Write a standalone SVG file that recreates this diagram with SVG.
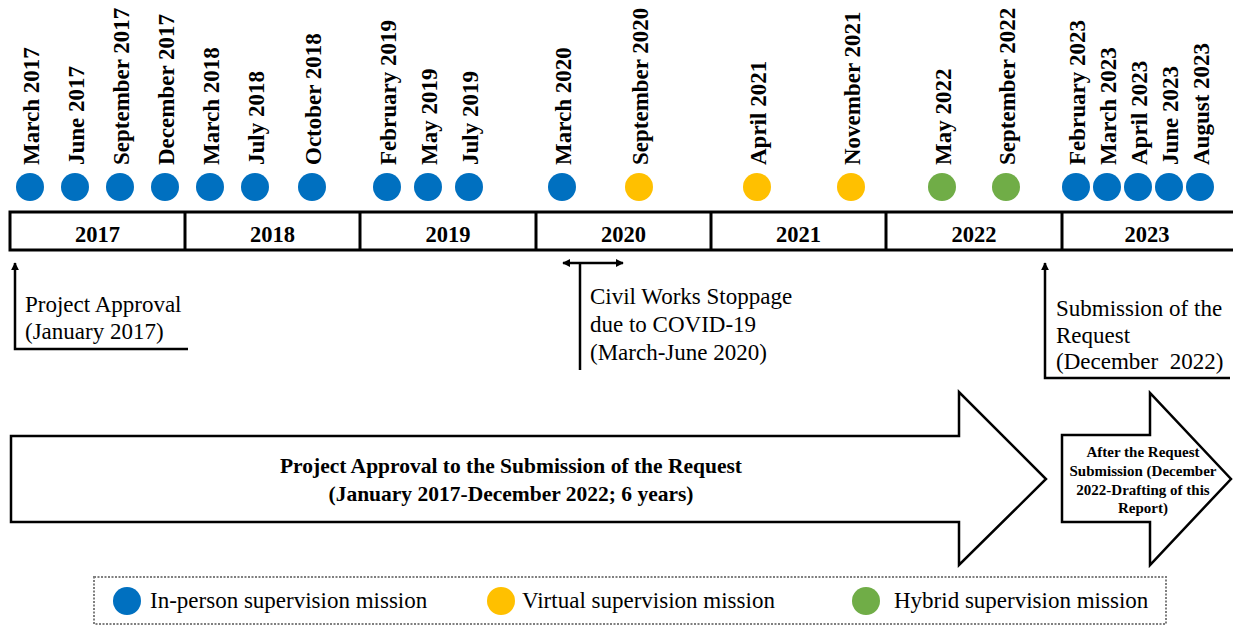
<svg xmlns="http://www.w3.org/2000/svg" width="1233" height="626" viewBox="0 0 1233 626">
  <style>
    .lbl { font-family: "Liberation Serif", "Times New Roman", serif; font-weight: bold; font-size: 23px; fill: #000; }
    .yr { font-family: "Liberation Serif", "Times New Roman", serif; font-weight: bold; font-size: 22.5px; fill: #000; text-anchor: middle; }
    .note { font-family: "Liberation Serif", "Times New Roman", serif; font-size: 23px; fill: #000; white-space: pre; }
    .big { font-family: "Liberation Serif", "Times New Roman", serif; font-weight: bold; font-size: 21.5px; fill: #000; text-anchor: middle; }
    .small { font-family: "Liberation Serif", "Times New Roman", serif; font-weight: bold; font-size: 15px; fill: #000; text-anchor: middle; }
    .inp { fill: #0070C0; }
    .vir { fill: #FFC000; }
    .hyb { fill: #70AD47; }
    .bar { fill: #fff; stroke: #000; stroke-width: 3; }
    .div { stroke: #000; stroke-width: 3; }
    .conn { fill: none; stroke: #000; stroke-width: 2.5; }
    .shape { fill: #fff; stroke: #000; stroke-width: 2.5; stroke-linejoin: miter; }
  </style>
  <defs>
    <marker id="head" viewBox="0 0 10 10" refX="9" refY="5" markerWidth="8" markerHeight="8" markerUnits="userSpaceOnUse" orient="auto-start-reverse">
      <path d="M0,0 L10,5 L0,10 z" fill="#000"/>
    </marker>
  </defs>

  <!-- mission dots with rotated date labels -->
  <g id="missions">
    <g id="m-2017-03"><circle class="inp" cx="30" cy="187" r="14"/><text class="lbl" transform="translate(38.5,165) rotate(-90)">March 2017</text></g>
    <g id="m-2017-06"><circle class="inp" cx="75" cy="187" r="14"/><text class="lbl" transform="translate(83.5,165) rotate(-90)">June 2017</text></g>
    <g id="m-2017-09"><circle class="inp" cx="120" cy="187" r="14"/><text class="lbl" transform="translate(128.5,165) rotate(-90)">September 2017</text></g>
    <g id="m-2017-12"><circle class="inp" cx="165" cy="187" r="14"/><text class="lbl" transform="translate(173.5,165) rotate(-90)">December 2017</text></g>
    <g id="m-2018-03"><circle class="inp" cx="210" cy="187" r="14"/><text class="lbl" transform="translate(218.5,165) rotate(-90)">March 2018</text></g>
    <g id="m-2018-07"><circle class="inp" cx="255" cy="187" r="14"/><text class="lbl" transform="translate(263.5,165) rotate(-90)">July 2018</text></g>
    <g id="m-2018-10"><circle class="inp" cx="312" cy="187" r="14"/><text class="lbl" transform="translate(320.5,165) rotate(-90)">October 2018</text></g>
    <g id="m-2019-02"><circle class="inp" cx="387" cy="187" r="14"/><text class="lbl" transform="translate(395.5,165) rotate(-90)">February 2019</text></g>
    <g id="m-2019-05"><circle class="inp" cx="428" cy="187" r="14"/><text class="lbl" transform="translate(436.5,165) rotate(-90)">May 2019</text></g>
    <g id="m-2019-07"><circle class="inp" cx="469" cy="187" r="14"/><text class="lbl" transform="translate(477.5,165) rotate(-90)">July 2019</text></g>
    <g id="m-2020-03"><circle class="inp" cx="562" cy="187" r="14"/><text class="lbl" transform="translate(570.5,165) rotate(-90)">March 2020</text></g>
    <g id="m-2020-09"><circle class="vir" cx="639" cy="187" r="14"/><text class="lbl" transform="translate(647.5,165) rotate(-90)">September 2020</text></g>
    <g id="m-2021-04"><circle class="vir" cx="757" cy="187" r="14"/><text class="lbl" transform="translate(765.5,165) rotate(-90)">April 2021</text></g>
    <g id="m-2021-11"><circle class="vir" cx="851" cy="187" r="14"/><text class="lbl" transform="translate(859.5,165) rotate(-90)">November 2021</text></g>
    <g id="m-2022-05"><circle class="hyb" cx="942" cy="187" r="14"/><text class="lbl" transform="translate(950.5,165) rotate(-90)">May 2022</text></g>
    <g id="m-2022-09"><circle class="hyb" cx="1006" cy="187" r="14"/><text class="lbl" transform="translate(1014.5,165) rotate(-90)">September 2022</text></g>
    <g id="m-2023-02"><circle class="inp" cx="1076" cy="187" r="14"/><text class="lbl" transform="translate(1084.5,165) rotate(-90)">February 2023</text></g>
    <g id="m-2023-03"><circle class="inp" cx="1107" cy="187" r="14"/><text class="lbl" transform="translate(1115.5,165) rotate(-90)">March 2023</text></g>
    <g id="m-2023-04"><circle class="inp" cx="1138" cy="187" r="14"/><text class="lbl" transform="translate(1146.5,165) rotate(-90)">April 2023</text></g>
    <g id="m-2023-06"><circle class="inp" cx="1169" cy="187" r="14"/><text class="lbl" transform="translate(1177.5,165) rotate(-90)">June 2023</text></g>
    <g id="m-2023-08"><circle class="inp" cx="1200" cy="187" r="14"/><text class="lbl" transform="translate(1208.5,165) rotate(-90)">August 2023</text></g>
  </g>

  <!-- year bar -->
  <g id="year-bar">
    <rect class="bar" x="10" y="212" width="1235" height="38"/>
    <line class="div" x1="185" y1="212" x2="185" y2="250"/>
    <line class="div" x1="360" y1="212" x2="360" y2="250"/>
    <line class="div" x1="536" y1="212" x2="536" y2="250"/>
    <line class="div" x1="711" y1="212" x2="711" y2="250"/>
    <line class="div" x1="886" y1="212" x2="886" y2="250"/>
    <line class="div" x1="1062" y1="212" x2="1062" y2="250"/>
    <text class="yr" x="97.5" y="242">2017</text>
    <text class="yr" x="272.5" y="242">2018</text>
    <text class="yr" x="448" y="242">2019</text>
    <text class="yr" x="623.5" y="242">2020</text>
    <text class="yr" x="798.5" y="242">2021</text>
    <text class="yr" x="974" y="242">2022</text>
    <text class="yr" x="1147" y="242">2023</text>
  </g>

  <!-- annotation connectors -->
  <g id="connectors">
    <path class="conn" d="M188,349 H15 V263" marker-end="url(#head)"/>
    <path class="conn" d="M580,370 V263"/>
    <path class="conn" d="M563,263 H623" marker-start="url(#head)" marker-end="url(#head)"/>
    <path class="conn" d="M1230,378 H1045 V263" marker-end="url(#head)"/>
  </g>

  <g id="note-approval">
    <text class="note" x="25" y="312">Project Approval</text>
    <text class="note" x="25" y="339">(January 2017)</text>
  </g>

  <g id="note-covid">
    <text class="note" x="590" y="304">Civil Works Stoppage</text>
    <text class="note" x="590" y="332">due to COVID-19</text>
    <text class="note" x="590" y="360">(March-June 2020)</text>
  </g>

  <g id="note-submission">
    <text class="note" x="1056" y="316">Submission of the</text>
    <text class="note" x="1056" y="343">Request</text>
    <text class="note" x="1056" y="369">(December  2022)</text>
  </g>

  <!-- period arrows -->
  <g id="period-main">
    <path class="shape" d="M11,436 H959 V392 L1046,479 L959,565 V522 H11 Z"/>
    <text class="big" x="511" y="473">Project Approval to the Submission of the Request</text>
    <text class="big" x="511" y="501">(January 2017-December 2022; 6 years)</text>
  </g>

  <g id="period-after">
    <path class="shape" d="M1062,435 H1150 V393 L1231,479 L1150,565 V522 H1062 Z"/>
    <text class="small" x="1143" y="457">After the Request</text>
    <text class="small" x="1143" y="476">Submission (December</text>
    <text class="small" x="1143" y="495">2022-Drafting of this</text>
    <text class="small" x="1143" y="513">Report)</text>
  </g>

  <!-- legend -->
  <g id="legend">
    <rect x="94" y="577" width="1072" height="47" fill="none" stroke="#7f7f7f" stroke-width="2" stroke-dasharray="2,1.5"/>
    <circle class="inp" cx="127" cy="601" r="14"/>
    <text class="note" x="150" y="608">In-person supervision mission</text>
    <circle class="vir" cx="501" cy="601" r="14"/>
    <text class="note" x="522" y="608">Virtual supervision mission</text>
    <circle class="hyb" cx="866" cy="601" r="14"/>
    <text class="note" x="894" y="608">Hybrid supervision mission</text>
  </g>
</svg>
